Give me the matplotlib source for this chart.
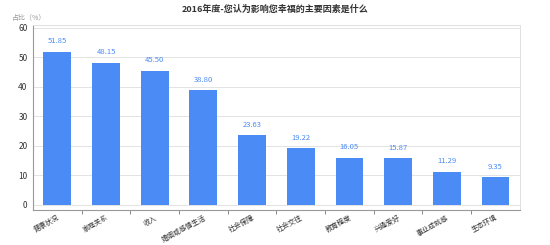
import matplotlib
matplotlib.use("Agg")
import matplotlib.pyplot as plt

categories = ["健康状况", "家庭关系", "收入", "婚姻或感情生活", "社会保障",
              "社会交往", "教育程度", "兴趣爱好", "事业成就感", "生态环境"]
values = [51.85, 48.15, 45.50, 38.80, 23.63, 19.22, 16.05, 15.87, 11.29, 9.35]
yticks = [0, 10, 20, 30, 40, 50, 60]

plt.rcParams['font.family'] = ['Noto Sans CJK SC', 'DejaVu Sans']

fig = plt.figure(figsize=(5.5, 2.45), dpi=100)
ax = fig.add_axes([0.06, 0.143, 0.885, 0.755])

bar_color = "#4a8bf5"
x = list(range(len(categories)))
bars = ax.bar(x, values, width=0.57, color=bar_color, zorder=3)
for xi, v in zip(x, values):
    ax.text(xi, v + 2.2, f"{v:.2f}", ha="center", va="bottom", fontsize=5.5,
            color="#4a8bf5")

ax.set_xlim(-0.5, len(categories) - 0.5)
ax.set_ylim(-1.7, 61)
ax.set_yticks(yticks)
ax.set_yticklabels([str(t) for t in yticks], fontsize=6, color="#333333")
ax.yaxis.grid(True, color="#e3e3e3", linewidth=0.7, zorder=0)
ax.tick_params(axis="y", length=0, pad=4)

ax.set_xticks(x)
ax.set_xticklabels(categories, rotation=28, ha="right", rotation_mode="anchor",
                   fontsize=5, color="#333333")
ax.set_xticks([i + 0.5 for i in x[:-1]], minor=True)
ax.tick_params(axis="x", which="major", length=0, pad=3)
ax.tick_params(axis="x", which="minor", length=3, color="#888888", width=0.7)
for lbl in ax.get_xticklabels():
    lbl.set_x(lbl.get_position()[0])

for s in ["top", "right"]:
    ax.spines[s].set_color("#e0e0e0")
    ax.spines[s].set_linewidth(0.7)
ax.spines["left"].set_color("#999999")
ax.spines["bottom"].set_color("#999999")
ax.spines["left"].set_linewidth(0.8)
ax.spines["bottom"].set_linewidth(0.8)

fig.text(0.5, 0.962, "2016年度-您认为影响您幸福的主要因素是什么", ha="center",
         va="center", fontsize=6.5, fontweight="bold", color="#333333")
fig.text(0.022, 0.927, "占比（%）", ha="left", va="center", fontsize=5,
         color="#999999")

fig.savefig("out.png", dpi=100)
